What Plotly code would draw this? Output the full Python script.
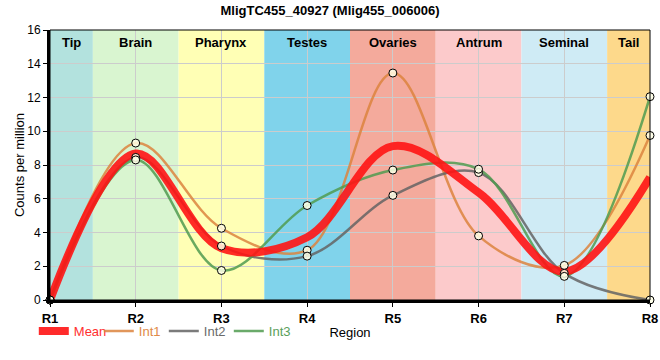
import plotly.graph_objects as go

regions = ["R1", "R2", "R3", "R4", "R5", "R6", "R7", "R8"]
int1 = [0, 9.3, 4.25, 2.95, 13.45, 3.8, 2.05, 9.75]
int2 = [0, 8.45, 3.2, 2.6, 6.2, 7.55, 1.58, 0]
int3 = [0, 8.3, 1.75, 5.6, 7.7, 7.75, 1.4, 12.05]
mean = [0, 8.68, 3.07, 3.72, 9.12, 6.37, 1.68, 7.27]

tissues = ["Tip", "Brain", "Pharynx", "Testes", "Ovaries", "Antrum", "Seminal", "Tail"]
tissue_colors = ["#b3e2de", "#d9f5d0", "#ffffb5", "#80d3eb", "#f4aa9c", "#fccacb", "#cfebf5", "#fdd98b"]

series = [("Int1", int1, "rgba(220,132,62,0.85)", "#e08a48"),
          ("Int2", int2, "rgba(100,100,100,0.85)", "#6a6a6a"),
          ("Int3", int3, "rgba(80,155,80,0.85)", "#5aa05a")]

fig = go.Figure()
for name, vals, col, tcol in series:
    fig.add_trace(go.Scatter(x=regions, y=vals, mode="lines",
                             line=dict(color=col, width=2.5, shape="spline", smoothing=1.0),
                             name=f"<span style='color:{tcol}'>{name}</span>", legendrank=2))
fig.add_trace(go.Scatter(x=regions, y=mean, mode="lines",
                         line=dict(color="rgba(255,20,20,0.9)", width=8, shape="spline", smoothing=1.0),
                         name="<span style='color:#ff3030'>Mean</span>", legendrank=1))
for name, vals, col, tcol in series:
    fig.add_trace(go.Scatter(x=regions, y=vals, mode="markers", showlegend=False, cliponaxis=False,
                             marker=dict(symbol="circle", size=8, color="rgba(255,255,230,0.85)",
                                         line=dict(color="black", width=1))))

shapes = []
annotations = []
for i, (t, c) in enumerate(zip(tissues, tissue_colors)):
    x0 = max(i - 0.5, 0)
    x1 = min(i + 0.5, 7)
    shapes.append(dict(type="rect", xref="x", yref="paper", x0=x0, x1=x1, y0=0, y1=1,
                       fillcolor=c, line=dict(width=0), layer="below"))
    annotations.append(dict(x=(x0 + x1) / 2, y=1, xref="x", yref="paper", yanchor="top", yshift=-3,
                            text=f"<b>{t}</b>", showarrow=False, font=dict(size=13, color="black")))
shapes.append(dict(type="rect", xref="paper", yref="paper", x0=0, x1=1, y0=0, y1=1,
                   line=dict(color="black", width=1), layer="above"))

fig.update_layout(
    width=660, height=360,
    margin=dict(l=50, r=10, t=30, b=60, autoexpand=False),
    paper_bgcolor="white", plot_bgcolor="white",
    font=dict(family="Liberation Sans, Arial, sans-serif", size=12, color="black"),
    title=dict(text="<b>MligTC455_40927 (Mlig455_006006)</b>", x=0.5, xanchor="center",
               y=1 - 10 / 360, yanchor="middle", yref="container", font=dict(size=13)),
    shapes=shapes, annotations=annotations,
    legend=dict(orientation="h", x=-0.027, xanchor="left", y=-31 / 270, yanchor="middle",
                yref="paper", font=dict(size=13), bgcolor="rgba(0,0,0,0)", traceorder="normal",
                itemwidth=30, tracegroupgap=0, entrywidth=20, entrywidthmode="pixels"),
    xaxis=dict(type="category", range=[0, 7], showgrid=True, gridcolor="#cccccc", gridwidth=1,
               automargin=False,
               showline=True, linecolor="black", linewidth=3, ticks="outside", ticklen=4,
               tickcolor="black", tickfont=dict(size=13),
               tickvals=regions, ticktext=[f"<b>{r}</b>" for r in regions],
               title=dict(text="Region", font=dict(size=13), standoff=4)),
    yaxis=dict(range=[0, 16], dtick=2, showgrid=True, gridcolor="#cccccc", gridwidth=1,
               automargin=False,
               zeroline=False, showline=True, linecolor="black", linewidth=3,
               ticks="outside", ticklen=4, tickcolor="black", tickfont=dict(size=12),
               title=dict(text="Counts per million", font=dict(size=13), standoff=0)),
)

fig.write_html("out.html", config={"displayModeBar": False},
               post_script="document.body.style.margin='0';")
